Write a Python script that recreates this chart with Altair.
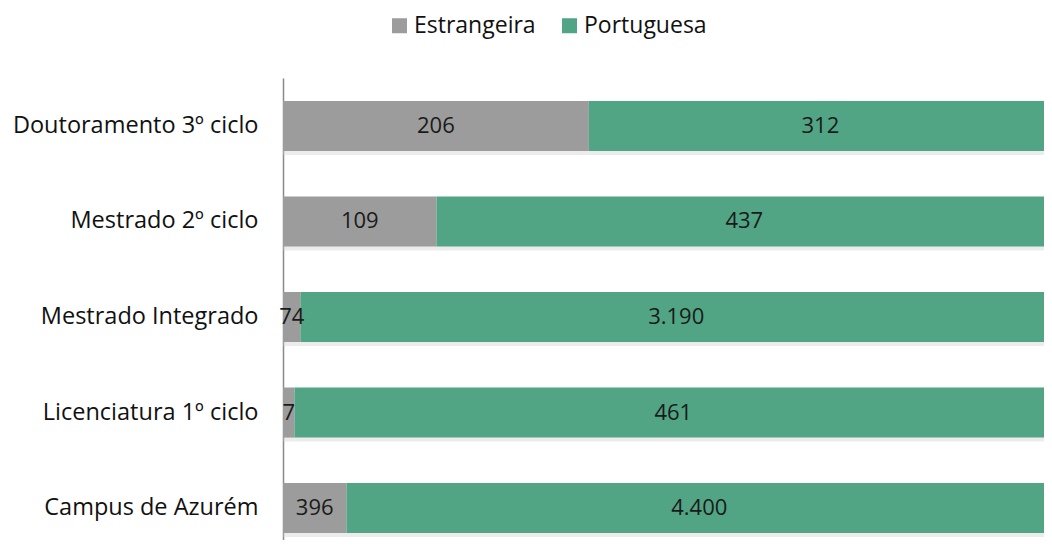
import altair as alt
import pandas as pd

categories = ["Doutoramento 3º ciclo", "Mestrado 2º ciclo", "Mestrado Integrado",
              "Licenciatura 1º ciclo", "Campus de Azurém"]
estrangeira = [206, 109, 74, 7, 396]
portuguesa = [312, 437, 3190, 461, 4400]
series = ["Estrangeira", "Portuguesa"]
colors = ["#9C9C9C", "#51A584"]


def fmt(v):
    return f"{v:,}".replace(",", ".")


rows = []
for c, e, p in zip(categories, estrangeira, portuguesa):
    rows.append({"cat": c, "serie": series[0], "ord": 0, "value": e, "label": fmt(e)})
    rows.append({"cat": c, "serie": series[1], "ord": 1, "value": p, "label": fmt(p)})
df = pd.DataFrame(rows)

FONT = "Open Sans"

y = alt.Y("cat:N", sort=categories, title=None,
          scale=alt.Scale(range=[0, 478], paddingInner=0.476, paddingOuter=0.24),
          axis=alt.Axis(ticks=False, labelPadding=25, labelFontSize=23.5, labelFont=FONT,
                        labelColor="#111111", domainColor="#8a8a8a", domainWidth=1.5,
                        labelLimit=400))
x = alt.X("x0:Q", title=None, axis=None, scale=alt.Scale(domain=[0, 761 / 769], nice=False, zero=True))

base = alt.Chart(df).transform_stack(
    stack="value", as_=["x0", "x1"], groupby=["cat"], offset="normalize",
    sort=[alt.SortField("ord", order="ascending")]
).transform_calculate(mid="(datum.x0 + datum.x1) / 2")

shadow = base.mark_bar(clip=True, color="#c8c8c8", opacity=0.35, yOffset=4).encode(
    y=y, x=x, x2="x1:Q")

bars = base.mark_bar(clip=True).encode(
    y=y, x=x, x2="x1:Q",
    color=alt.Color("serie:N", scale=alt.Scale(domain=series, range=colors),
                    legend=alt.Legend(title=None, orient="none", direction="horizontal",
                                      legendX=105, legendY=-64, symbolType="square",
                                      symbolSize=225, symbolStrokeWidth=0,
                                      labelFontSize=23, labelFont=FONT, labelColor="#111111",
                                      labelOffset=3, columnPadding=22, symbolOffset=0)),
)

text = base.mark_text(fontSize=22, font=FONT, color="#1a1a1a").encode(
    y=alt.Y("cat:N", sort=categories),
    x=alt.X("mid:Q"),
    text="label:N",
)

chart = alt.layer(shadow, bars, text).properties(
    width=761, height=462,
    autosize=alt.AutoSizeParams(type="none"),
    padding={"left": 275, "top": 70, "right": 0, "bottom": 0},
).configure_view(stroke=None)

chart.save("out.html", embed_options={"renderer": "svg", "actions": False})
